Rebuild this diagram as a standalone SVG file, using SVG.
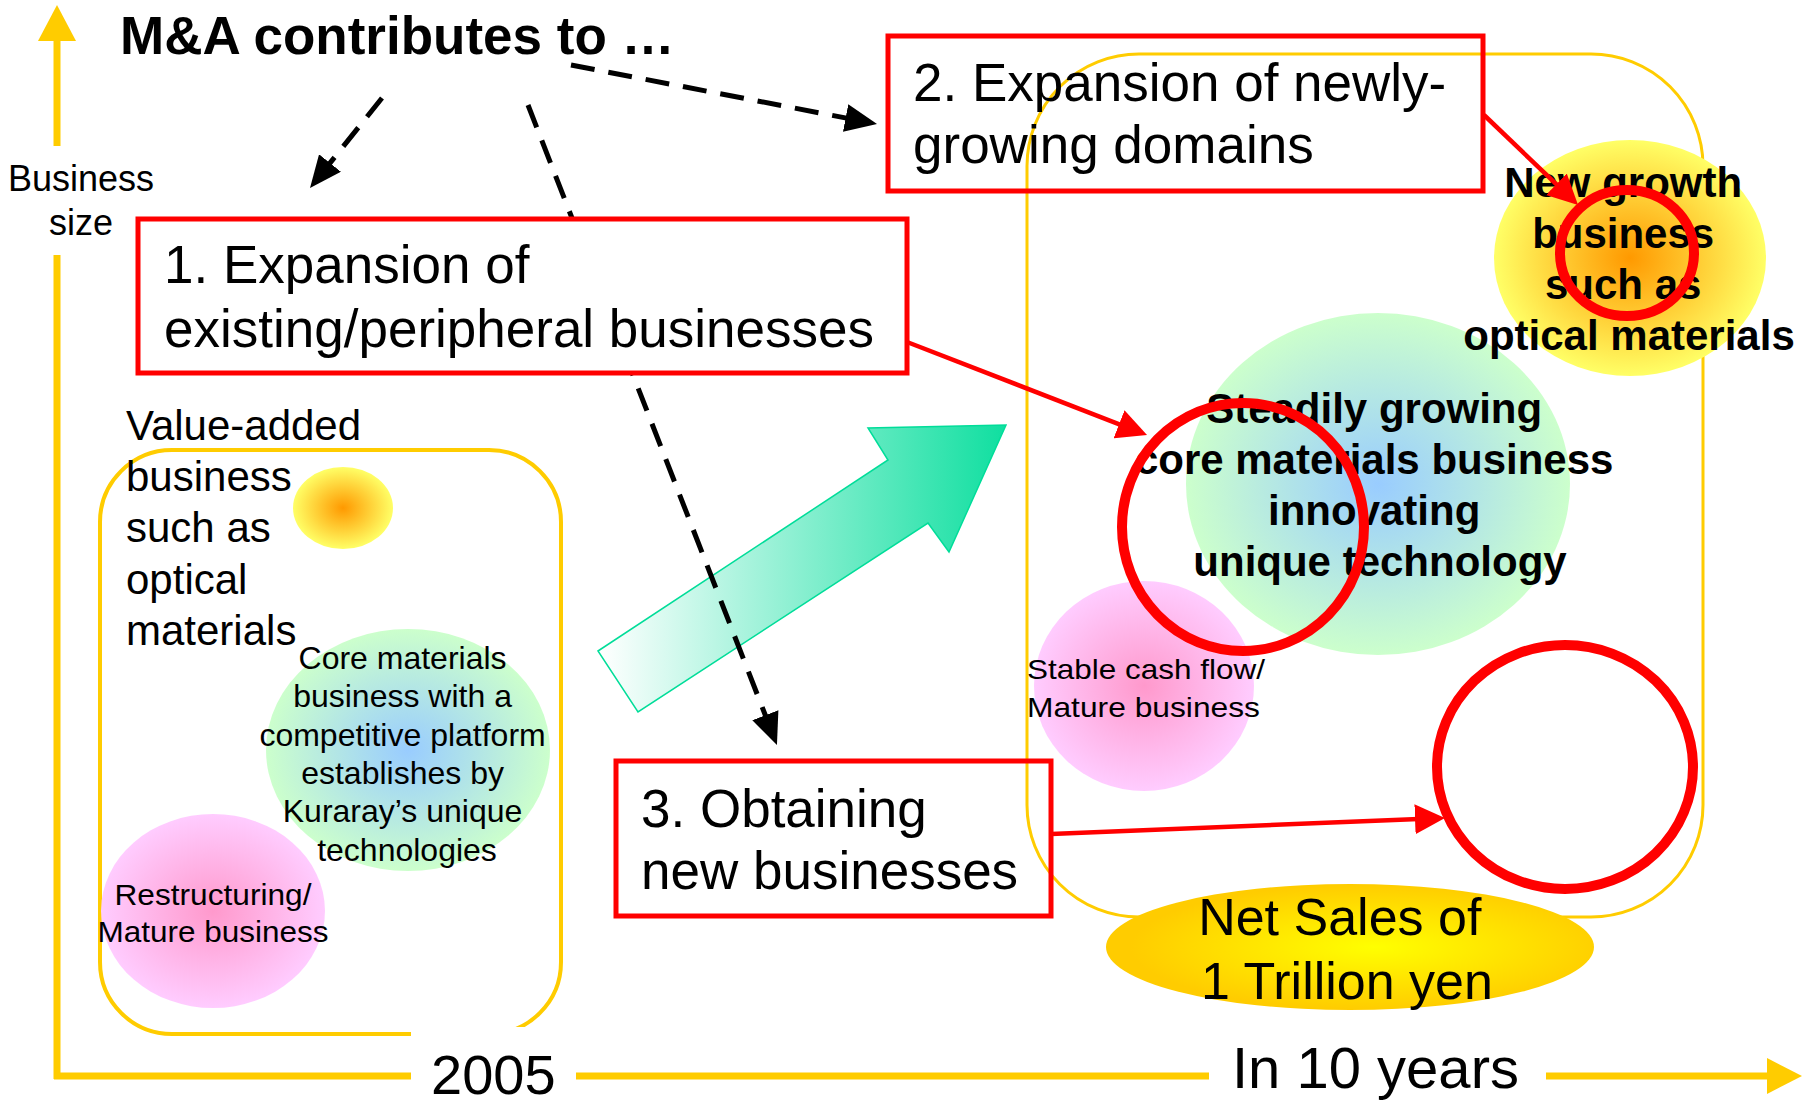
<svg xmlns="http://www.w3.org/2000/svg" width="1817" height="1106" viewBox="0 0 1817 1106">
  <style>
    .ax{stroke:#FFCC00;stroke-width:7;fill:none}
    .axhead{fill:#FFCC00}
    .frame{fill:none;stroke:#FFCC00}
    .txt{font-family:"Liberation Sans",Arial,sans-serif;fill:#000}
    .bold{font-weight:bold}
    .mid{text-anchor:middle}
    .box{stroke:#FF0000;stroke-width:5}
    .hl{fill:none;stroke:#FF0000;stroke-width:10}
    .dash{fill:none;stroke:#000;stroke-width:5;stroke-dasharray:24 14}
    .red{fill:none;stroke:#FF0000;stroke-width:4.5}
  </style>
  <defs>
    <radialGradient id="gOrange" cx="50%" cy="50%" r="50%">
      <stop offset="0" stop-color="#FF9900"/>
      <stop offset="1" stop-color="#FFFF66"/>
    </radialGradient>
    <radialGradient id="gCore" cx="50%" cy="50%" r="50%">
      <stop offset="0" stop-color="#99CCFF"/>
      <stop offset="1" stop-color="#CCFFCC"/>
    </radialGradient>
    <radialGradient id="gPink" cx="50%" cy="50%" r="50%">
      <stop offset="0" stop-color="#FF99CC"/>
      <stop offset="1" stop-color="#FFCCFF"/>
    </radialGradient>
    <radialGradient id="gSales" cx="55%" cy="50%" r="50%">
      <stop offset="0" stop-color="#FFFF00"/>
      <stop offset="1" stop-color="#FFCC00"/>
    </radialGradient>
    <linearGradient id="gGrow" gradientUnits="userSpaceOnUse" x1="600" y1="0" x2="1006" y2="0">
      <stop offset="0" stop-color="#FFFFFF"/>
      <stop offset="1" stop-color="#0FDFA0"/>
    </linearGradient>
    <marker id="headRed" viewBox="0 0 30 30" markerWidth="30" markerHeight="30" markerUnits="userSpaceOnUse" refX="10" refY="15" orient="auto">
      <path d="M0,0 L30,15 L0,30 z" fill="#FF0000"/>
    </marker>
    <marker id="headBlack" viewBox="0 0 32 28" markerWidth="32" markerHeight="28" markerUnits="userSpaceOnUse" refX="12" refY="14" orient="auto">
      <path d="M0,0 L32,14 L0,28 z" fill="#000"/>
    </marker>
  </defs>

  <rect width="1817" height="1106" fill="#FFFFFF"/>

  <!-- axes -->
  <g id="axes">
    <line class="ax" x1="57" y1="36" x2="57" y2="146"/>
    <line class="ax" x1="57" y1="255" x2="57" y2="1079"/>
    <polygon class="axhead" points="57,5 76,41 38,41"/>
    <line class="ax" x1="54" y1="1076" x2="1770" y2="1076"/>
    <polygon class="axhead" points="1802,1076 1767,1058 1767,1094"/>
    <text class="txt mid" x="81" y="191" font-size="36">Business</text>
    <text class="txt mid" x="81" y="235" font-size="36">size</text>
  </g>

  <!-- business portfolio frames: today and in ten years -->
  <rect id="frame-2005" class="frame" stroke-width="4" x="100" y="450" width="461" height="584" rx="72"/>
  <rect id="frame-future" class="frame" stroke-width="3" x="1027" y="54" width="676" height="863" rx="112"/>

  <!-- growth arrow -->
  <polygon id="growth-arrow" points="598,651 888,460 868,428 1006,425 949,552 928,523 638,712" fill="url(#gGrow)" stroke="#00DD99" stroke-width="1.5"/>

  <!-- 2005 portfolio -->
  <g id="value-added">
    <ellipse cx="343" cy="508" rx="50" ry="41" fill="url(#gOrange)"/>
    <text class="txt" font-size="42">
      <tspan x="126" y="440">Value-added</tspan>
      <tspan x="126" y="491">business</tspan>
      <tspan x="126" y="542">such as</tspan>
      <tspan x="126" y="594">optical</tspan>
      <tspan x="126" y="645">materials</tspan>
    </text>
  </g>
  <g id="core-2005">
    <ellipse cx="408" cy="750" rx="142" ry="121" fill="url(#gCore)"/>
    <text class="txt mid" font-size="32">
      <tspan x="407" y="669">Core materials</tspan>
      <tspan x="407" y="707">business with a</tspan>
      <tspan x="407" y="746">competitive platform</tspan>
      <tspan x="407" y="784">establishes by</tspan>
      <tspan x="407" y="822">Kuraray’s unique</tspan>
      <tspan x="407" y="861">technologies</tspan>
    </text>
  </g>
  <g id="restructuring">
    <ellipse cx="213" cy="911" rx="112" ry="97" fill="url(#gPink)"/>
    <text class="txt mid" x="213" y="905" font-size="30" textLength="197" lengthAdjust="spacingAndGlyphs">Restructuring/</text>
    <text class="txt mid" x="213" y="942" font-size="30" textLength="231" lengthAdjust="spacingAndGlyphs">Mature business</text>
  </g>

  <!-- future portfolio -->
  <g id="core-future">
    <ellipse cx="1378" cy="484" rx="192" ry="171" fill="url(#gCore)"/>
    <text class="txt bold mid" font-size="42">
      <tspan x="1380" y="423">Steadily growing</tspan>
      <tspan x="1380" y="474">core materials business</tspan>
      <tspan x="1380" y="525">innovating</tspan>
      <tspan x="1380" y="576">unique technology</tspan>
    </text>
  </g>
  <g id="new-growth">
    <ellipse cx="1630" cy="258" rx="136" ry="118" fill="url(#gOrange)"/>
    <text class="txt bold mid" font-size="42">
      <tspan x="1629" y="197">New growth</tspan>
      <tspan x="1629" y="248">business</tspan>
      <tspan x="1629" y="299">such as</tspan>
      <tspan x="1629" y="350">optical materials</tspan>
    </text>
  </g>
  <g id="stable">
    <ellipse cx="1144" cy="686" rx="110" ry="105" fill="url(#gPink)"/>
    <text class="txt" x="1027" y="679" font-size="28" textLength="238" lengthAdjust="spacingAndGlyphs">Stable cash flow/</text>
    <text class="txt" x="1027" y="717" font-size="28" textLength="233" lengthAdjust="spacingAndGlyphs">Mature business</text>
  </g>
  <g id="net-sales">
    <ellipse cx="1350" cy="947" rx="244" ry="63" fill="url(#gSales)"/>
    <text class="txt mid" font-size="52">
      <tspan x="1347" y="935">Net Sales of</tspan>
      <tspan x="1347" y="999">1 Trillion yen</tspan>
    </text>
  </g>

  <!-- time-axis labels on white -->
  <g id="label-2005">
    <rect x="411" y="1027" width="165" height="79" fill="#FFFFFF"/>
    <text class="txt" x="431" y="1094" font-size="56">2005</text>
  </g>
  <g id="label-10y">
    <rect x="1209" y="1040" width="337" height="66" fill="#FFFFFF"/>
    <text class="txt" x="1232" y="1088" font-size="58">In 10 years</text>
  </g>

  <!-- connectors -->
  <g id="connectors">
    <path class="dash" d="M382,98 L322.5,172.4" marker-end="url(#headBlack)"/>
    <path class="dash" d="M528,105 L769.7,726.4" marker-end="url(#headBlack)"/>
    <path class="dash" d="M571,65 L857.4,120.2" marker-end="url(#headBlack)"/>
    <path class="red" d="M907,342 L1128.4,427.8" marker-end="url(#headRed)"/>
    <path class="red" d="M1484,115 L1563.6,191.2" marker-end="url(#headRed)"/>
    <path class="red" d="M1051,834 L1425,818.8" marker-end="url(#headRed)"/>
  </g>

  <!-- title -->
  <text id="title" class="txt bold" x="120" y="54" font-size="53">M&amp;A contributes to …</text>

  <!-- M&A routes -->
  <g id="route-1">
    <rect class="box" x="138" y="219" width="769" height="154" fill="#FFFFFF"/>
    <text class="txt" font-size="53">
      <tspan x="164" y="283">1. Expansion of</tspan>
      <tspan x="164" y="347">existing/peripheral businesses</tspan>
    </text>
  </g>
  <g id="route-2">
    <rect class="box" x="888" y="36" width="595" height="155" fill="none"/>
    <text class="txt" font-size="53">
      <tspan x="913" y="101">2. Expansion of newly-</tspan>
      <tspan x="913" y="163">growing domains</tspan>
    </text>
  </g>
  <g id="route-3">
    <rect class="box" x="616" y="761" width="435" height="155" fill="none"/>
    <text class="txt" font-size="53">
      <tspan x="641" y="827">3. Obtaining</tspan>
      <tspan x="641" y="889">new businesses</tspan>
    </text>
  </g>

  <!-- targets of each route -->
  <g id="targets">
    <ellipse class="hl" cx="1627" cy="253" rx="67" ry="63"/>
    <ellipse class="hl" cx="1243" cy="527" rx="121" ry="124"/>
    <ellipse class="hl" cx="1565" cy="767" rx="128" ry="122"/>
  </g>
</svg>
